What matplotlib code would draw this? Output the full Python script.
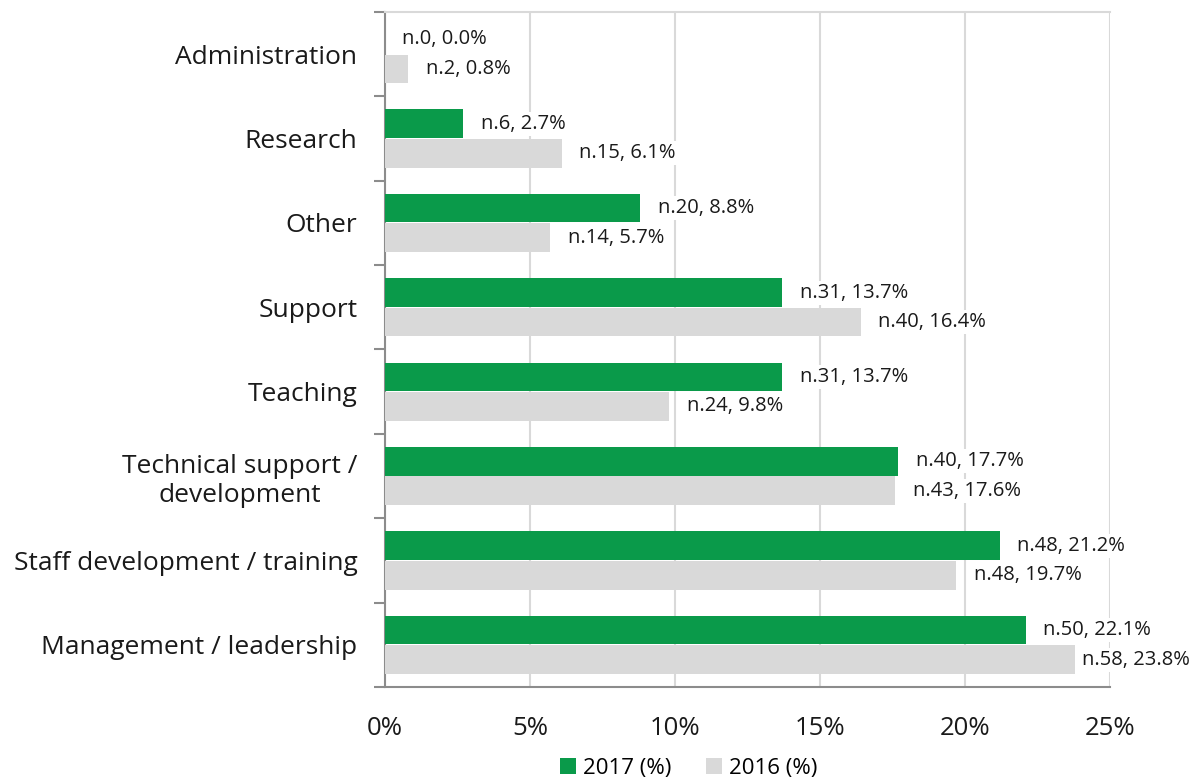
import matplotlib
matplotlib.use("Agg")
import matplotlib.pyplot as plt
import numpy as np

plt.rcParams['font.family'] = ['Open Sans', 'DejaVu Sans']

categories = ["Administration", "Research", "Other", "Support", "Teaching",
              "Technical support /\ndevelopment", "Staff development / training",
              "Management / leadership"]
pct_2017 = [0.0, 2.7, 8.8, 13.7, 13.7, 17.7, 21.2, 22.1]
n_2017 = [0, 6, 20, 31, 31, 40, 48, 50]
pct_2016 = [0.8, 6.1, 5.7, 16.4, 9.8, 17.6, 19.7, 23.8]
n_2016 = [2, 15, 14, 40, 24, 43, 48, 58]

green = '#0a9a4a'
grey = '#d9d9d9'
axis_grey = '#8c8c8c'
text_col = '#1a1a1a'

fig = plt.figure(figsize=(12.04, 7.78), dpi=100)
ax = fig.add_axes([0.3198, 0.117, 0.6022, 0.8676])

# first category at the top
y = np.arange(len(categories))[::-1].astype(float)
h = 0.34
ax.barh(y + 0.175, pct_2017, height=h, color=green, label='2017 (%)', zorder=3)
ax.barh(y - 0.175, pct_2016, height=h, color=grey, label='2016 (%)', zorder=3)


def put_label(v, n, yy):
    # keep the label inside the figure, like the original does for the longest bar
    x = min(v + 0.6, 24.03)
    ax.text(x, yy, f"n.{n}, {v:.1f}%", va='center', ha='left', fontsize=14.5,
            color=text_col, zorder=4, clip_on=False,
            bbox=dict(facecolor='white', edgecolor='none', pad=1.5))


for yi, v, n in zip(y, pct_2017, n_2017):
    put_label(v, n, yi + 0.175)
for yi, v, n in zip(y, pct_2016, n_2016):
    put_label(v, n, yi - 0.175)

ax.set_xlim(0, 25)
ax.set_ylim(-0.5, len(categories) - 0.5)
ax.set_xticks([0, 5, 10, 15, 20, 25])
ax.set_xticklabels(['0%', '5%', '10%', '15%', '20%', '25%'], fontsize=18.5, color=text_col)
ax.tick_params(axis='x', length=0, pad=21)

# category labels at centers, tick marks at the boundaries
ax.set_yticks(y)
ax.set_yticklabels(categories, fontsize=19, color=text_col, ha='right',
                   multialignment='center')
ax.tick_params(axis='y', which='major', length=0, pad=20)
ax.set_yticks(np.arange(-0.5, len(categories), 1.0), minor=True)
ax.tick_params(axis='y', which='minor', length=8, width=1.5, color=axis_grey, direction='out')

ax.grid(axis='x', color='#d9d9d9', linewidth=1.5, zorder=0)
ax.spines['right'].set_visible(False)
ax.spines['top'].set_color('#d9d9d9')
ax.spines['top'].set_linewidth(1.5)
ax.spines['left'].set_color(axis_grey)
ax.spines['left'].set_linewidth(1.5)
ax.spines['bottom'].set_color(axis_grey)
ax.spines['bottom'].set_linewidth(1.5)

fig.legend(loc='lower center', bbox_to_anchor=(0.572, -0.027), ncol=2, frameon=False,
           fontsize=16, handlelength=0.7, handleheight=0.7, handletextpad=0.3,
           columnspacing=1.6)

fig.savefig('out.png', dpi=100)
